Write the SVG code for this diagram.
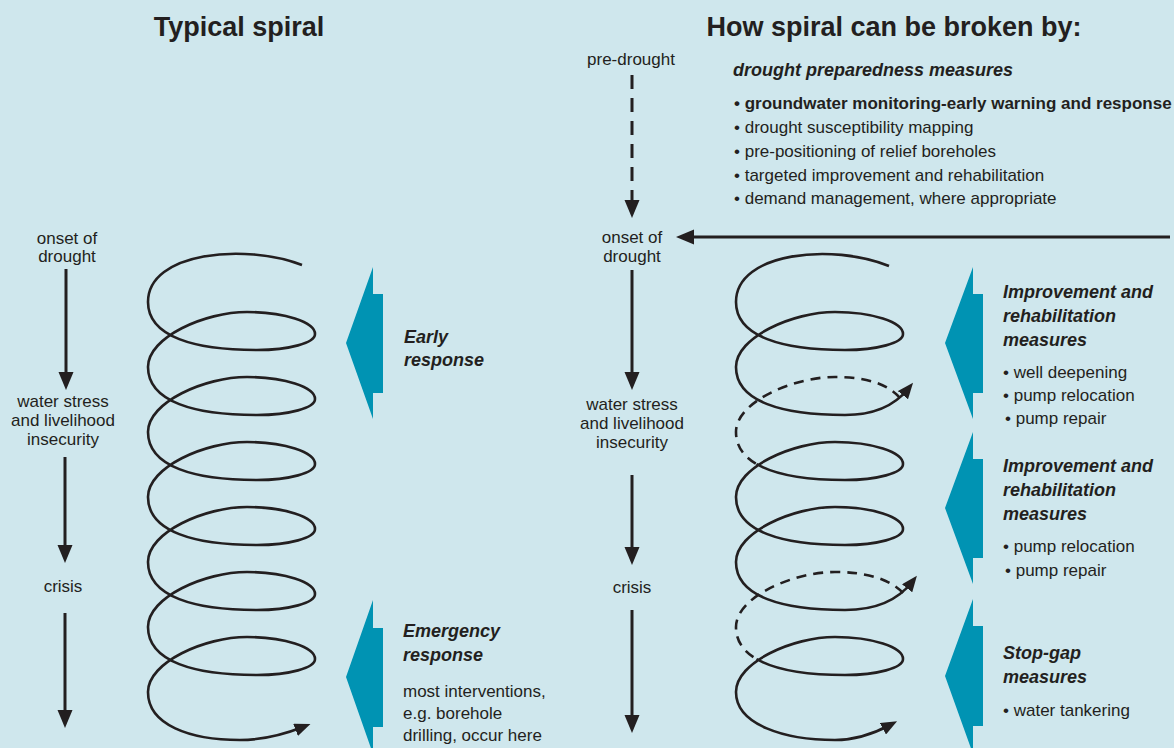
<svg xmlns="http://www.w3.org/2000/svg" width="1174" height="748" viewBox="0 0 1174 748">
<style>
text{font-family:"Liberation Sans",Arial,sans-serif;fill:#231f20}
.title{font-size:27px;font-weight:bold;text-anchor:middle}
.lbl{font-size:17px;text-anchor:middle}
.hd{font-size:18px;font-weight:bold;font-style:italic}
.body{font-size:17px}
.b1{font-size:17px;font-weight:bold}
.blue{fill:#0093b3}
.ln{stroke:#231f20;stroke-width:3;fill:none}
.sp{stroke:#231f20;stroke-width:2.6;fill:none}
.dash{stroke-dasharray:10 7}
.vdash{stroke-dasharray:14 9}
</style>
<defs>
<marker id="ah" markerUnits="userSpaceOnUse" markerWidth="18" markerHeight="16" refX="10" refY="8" orient="auto">
<path d="M0,0.5 L18,8 L0,15.5 z" fill="#231f20"/>
</marker>
<marker id="sh" markerUnits="userSpaceOnUse" markerWidth="16" markerHeight="13" refX="8" refY="6.5" orient="auto">
<path d="M0,0 L16,6.5 L0,13 z" fill="#231f20"/>
</marker>
</defs>
<rect x="0" y="0" width="1174" height="748" fill="#cfe7ed"/>

<text class="title" x="239" y="36">Typical spiral</text>
<text class="title" x="894" y="36">How spiral can be broken by:</text>

<g id="connectors">
<line class="ln" x1="66" y1="269" x2="66" y2="382" marker-end="url(#ah)"/>
<line class="ln" x1="65" y1="457" x2="65" y2="555" marker-end="url(#ah)"/>
<line class="ln" x1="65" y1="613" x2="65" y2="720" marker-end="url(#ah)"/>
<line class="ln vdash" x1="632" y1="75" x2="632" y2="210" marker-end="url(#ah)"/>
<line class="ln" x1="1170" y1="237" x2="684" y2="237" stroke-width="2.6" marker-end="url(#ah)"/>
<line class="ln" x1="632" y1="270" x2="632" y2="382" marker-end="url(#ah)"/>
<line class="ln" x1="632" y1="475" x2="632" y2="557" marker-end="url(#ah)"/>
<line class="ln" x1="632" y1="610" x2="632" y2="725" marker-end="url(#ah)"/>
</g>

<g id="spiral-left">
<path class="sp" marker-end="url(#sh)" d="M302,265 C245,243 148,252 148,302
C148,337 195,350 257,350 C289,350 315,343 315,334 C315,322 284,312 247,312 C205,312 148,337 148,367
C148,402 195,415 257,415 C289,415 315,408 315,399 C315,387 284,377 247,377 C205,377 148,402 148,432
C148,467 195,480 257,480 C289,480 315,473 315,464 C315,452 284,442 247,442 C205,442 148,467 148,497
C148,532 195,545 257,545 C289,545 315,538 315,529 C315,517 284,507 247,507 C205,507 148,532 148,562
C148,597 195,610 257,610 C289,610 315,603 315,594 C315,582 284,572 247,572 C205,572 148,597 148,627
C148,662 195,675 257,675 C289,675 315,668 315,659 C315,647 284,637 247,637 C205,637 148,662 148,692
C148,725 190,740 240,740 C262,740 285,734 303,727"/>
</g>

<g id="spiral-right">
<path class="sp" marker-end="url(#sh)" d="M889,266 C833,243 736,252 736,302
C736,337 783,350 845,350 C877,350 903,343 903,334 C903,322 872,312 835,312 C793,312 736,337 736,367
C736,402 783,415 845,415 C875,415 895,405 908,389"/>
<path class="sp dash" d="M900,398 C888,384 866,377 835,377 C793,377 736,402 736,432 C736,446 743.5,456.5 756.5,464"/>
<path class="sp" marker-end="url(#sh)" d="M756.5,464 C776,475.3 807.8,480 845,480 C877,480 903,473 903,464 C903,452 872,442 835,442 C793,442 736,467 736,497
C736,532 783,545 845,545 C877,545 903,538 903,529 C903,517 872,507 835,507 C793,507 736,532 736,562
C736,597 783,610 845,610 C877,610 898,600 912,582"/>
<path class="sp dash" d="M903,593 C890,579 866,572 835,572 C793,572 736,597 736,627 C736,641 743.5,651.5 756.5,659"/>
<path class="sp" marker-end="url(#sh)" d="M756.5,659 C776,670.3 807.8,675 845,675 C877,675 903,668 903,659 C903,647 872,637 835,637 C793,637 736,662 736,692
C736,725 785,740 835,740 C858,740 875,733 890,725"/>
</g>

<g id="label-onset-left"><text class="lbl" x="67" y="244">onset of</text><text class="lbl" x="67" y="262">drought</text></g>
<g id="label-stress-left"><text class="lbl" x="63" y="407">water stress</text><text class="lbl" x="63" y="426">and livelihood</text><text class="lbl" x="63" y="445">insecurity</text></g>
<g id="label-crisis-left"><text class="lbl" x="63" y="592">crisis</text></g>

<g id="label-predrought"><text class="lbl" x="631" y="65">pre-drought</text></g>
<g id="label-onset-right"><text class="lbl" x="632" y="243">onset of</text><text class="lbl" x="632" y="262">drought</text></g>
<g id="label-stress-right"><text class="lbl" x="632" y="410">water stress</text><text class="lbl" x="632" y="429">and livelihood</text><text class="lbl" x="632" y="448">insecurity</text></g>
<g id="label-crisis-right"><text class="lbl" x="632" y="593">crisis</text></g>

<g id="early-response">
<polygon class="blue" points="346,343 373,267 373,294 383,294 383,393 373,393 373,419"/>
<text class="hd" x="404" y="343">Early</text>
<text class="hd" x="404" y="366">response</text>
</g>
<g id="emergency-response">
<polygon class="blue" points="346,677 373,600 373,628 383,628 383,727 373,727 373,754"/>
<text class="hd" x="403" y="637">Emergency</text>
<text class="hd" x="403" y="661">response</text>
<text class="body" x="403" y="697">most interventions,</text>
<text class="body" x="403" y="719">e.g. borehole</text>
<text class="body" x="403" y="741">drilling, occur here</text>
</g>

<g id="preparedness">
<text class="hd" x="733" y="76">drought preparedness measures</text>
<text class="b1" x="734" y="109">• groundwater monitoring-early warning and response</text>
<text class="body" x="734" y="133">• drought susceptibility mapping</text>
<text class="body" x="734" y="157">• pre-positioning of relief boreholes</text>
<text class="body" x="734" y="181">• targeted improvement and rehabilitation</text>
<text class="body" x="734" y="204">• demand management, where appropriate</text>
</g>

<g id="improvement-1">
<polygon class="blue" points="945,343 973,267 973,294 983,294 983,393 973,393 973,419"/>
<text class="hd" x="1003" y="298">Improvement and</text>
<text class="hd" x="1003" y="322">rehabilitation</text>
<text class="hd" x="1003" y="346">measures</text>
<text class="body" x="1003" y="378">• well deepening</text>
<text class="body" x="1003" y="401">• pump relocation</text>
<text class="body" x="1005" y="424">• pump repair</text>
</g>
<g id="improvement-2">
<polygon class="blue" points="945,508 973,432 973,459 983,459 983,558 973,558 973,584"/>
<text class="hd" x="1003" y="472">Improvement and</text>
<text class="hd" x="1003" y="496">rehabilitation</text>
<text class="hd" x="1003" y="520">measures</text>
<text class="body" x="1003" y="552">• pump relocation</text>
<text class="body" x="1005" y="576">• pump repair</text>
</g>
<g id="stop-gap">
<polygon class="blue" points="945,676 973,599 973,626 983,626 983,726 973,726 973,754"/>
<text class="hd" x="1003" y="659">Stop-gap</text>
<text class="hd" x="1003" y="683">measures</text>
<text class="body" x="1003" y="716">• water tankering</text>
</g>
</svg>
